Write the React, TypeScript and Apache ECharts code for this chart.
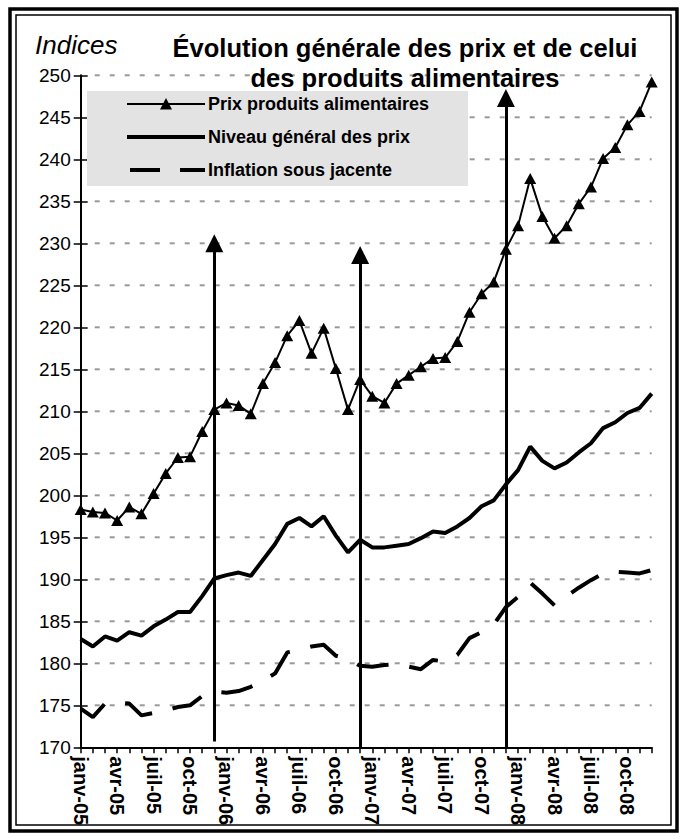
import React, { useEffect, useRef } from 'react';
import * as echarts from 'echarts';

const categories = [
  'janv-05','févr-05','mars-05','avr-05','mai-05','juin-05','juil-05','août-05','sept-05','oct-05','nov-05','déc-05',
  'janv-06','févr-06','mars-06','avr-06','mai-06','juin-06','juil-06','août-06','sept-06','oct-06','nov-06','déc-06',
  'janv-07','févr-07','mars-07','avr-07','mai-07','juin-07','juil-07','août-07','sept-07','oct-07','nov-07','déc-07',
  'janv-08','févr-08','mars-08','avr-08','mai-08','juin-08','juil-08','août-08','sept-08','oct-08','nov-08','déc-08',
];

const foodPrices = [
  198.3, 198.0, 197.9, 197.0, 198.6, 197.8, 200.2, 202.6, 204.5, 204.6, 207.6, 210.2,
  211.0, 210.7, 209.7, 213.3, 215.8, 219.0, 220.8, 216.9, 219.9, 215.1, 210.2, 213.8,
  211.8, 211.0, 213.3, 214.3, 215.3, 216.3, 216.4, 218.3, 221.8, 224.0, 225.4, 229.3,
  232.1, 237.7, 233.2, 230.6, 232.1, 234.7, 236.7, 240.1, 241.4, 244.1, 245.7, 249.2,
];

const generalPrices = [
  182.9, 182.0, 183.2, 182.7, 183.7, 183.3, 184.4, 185.2, 186.1, 186.1, 188.0, 190.1,
  190.5, 190.8, 190.4, 192.3, 194.2, 196.6, 197.3, 196.3, 197.5, 195.2, 193.2, 194.7,
  193.8, 193.8, 194.0, 194.2, 194.9, 195.7, 195.5, 196.3, 197.3, 198.7, 199.4, 201.3,
  203.0, 205.8, 204.1, 203.2, 203.9, 205.1, 206.2, 208.0, 208.7, 209.8, 210.4, 212.1,
];

const coreInflation = [
  174.6, 173.6, 175.2, 175.3, 175.2, 173.8, 174.1, 174.4, 174.8, 175.0, 176.1, 176.6,
  176.5, 176.7, 177.2, 177.9, 178.8, 181.3, 181.6, 182.0, 182.2, 180.9, 180.5, 179.7,
  179.6, 179.8, 179.9, 179.6, 179.3, 180.4, 180.2, 181.0, 183.0, 183.7, 184.6, 186.7,
  187.9, 189.6, 188.3, 186.9, 188.0, 189.0, 189.9, 190.7, 190.9, 190.8, 190.7, 191.1,
];

const seriesNames = ['Prix produits alimentaires', 'Niveau général des prix', 'Inflation sous jacente'];

const gridValues = [175, 180, 185, 190, 195, 200, 205, 210, 215, 220, 225, 230, 235, 240, 245, 250];

const arrowMonths = ['déc-05', 'déc-06', 'déc-07'];
const arrowFrom = [170.7, 170, 170];
const arrowTo = [230.0, 228.6, 247.3];

const FONT = "'Liberation Sans', Arial, Helvetica, sans-serif";

export default function App() {
  const ref = useRef<HTMLDivElement>(null);

  useEffect(() => {
    if (!ref.current) return;
    const chart = echarts.init(ref.current, undefined, { renderer: 'svg' });

    const legendX = 127;
    const legendRows = [104, 137, 170];

    const baseGraphic: any[] = [
      { type: 'rect', shape: { x: 10, y: 9, width: 667, height: 822 }, style: { fill: 'none', stroke: '#000', lineWidth: 3.5 }, z: 100 },
      { type: 'rect', shape: { x: 16, y: 15, width: 655, height: 810 }, style: { fill: 'none', stroke: '#000', lineWidth: 1.5 }, z: 100 },
      {
        type: 'text', x: 35, y: 45,
        style: { text: 'Indices', fontFamily: FONT, fontSize: 26, fontStyle: 'italic', fill: '#000', verticalAlign: 'middle', align: 'left' },
      },
      { type: 'rect', shape: { x: 87, y: 91, width: 381, height: 95 }, style: { fill: '#e3e3e3' }, z: 50 },
      { type: 'line', shape: { x1: legendX, y1: legendRows[0], x2: legendX + 78, y2: legendRows[0] }, style: { stroke: '#000', lineWidth: 2 }, z: 51 },
      { type: 'polygon', shape: { points: [[166, legendRows[0] - 6], [160, legendRows[0] + 5.5], [172, legendRows[0] + 5.5]] }, style: { fill: '#000' }, z: 52 },
      { type: 'line', shape: { x1: legendX, y1: legendRows[1], x2: legendX + 78, y2: legendRows[1] }, style: { stroke: '#000', lineWidth: 4 }, z: 51 },
      { type: 'line', shape: { x1: 130, y1: legendRows[2], x2: 160, y2: legendRows[2] }, style: { stroke: '#000', lineWidth: 4 }, z: 51 },
      { type: 'line', shape: { x1: 180, y1: legendRows[2], x2: 205, y2: legendRows[2] }, style: { stroke: '#000', lineWidth: 4 }, z: 51 },
      ...seriesNames.map((n, i) => ({
        type: 'text', x: 208, y: legendRows[i], z: 52,
        style: { text: n, fontFamily: FONT, fontSize: 18, fontWeight: 'bold', fill: '#000', verticalAlign: 'middle', align: 'left' },
      })),
    ];

    const option: any = {
      animation: false,
      backgroundColor: '#ffffff',
      title: {
        text: 'Évolution générale des prix et de celui\ndes produits alimentaires',
        left: 400,
        top: 28,
        textAlign: 'center',
        textStyle: { fontFamily: FONT, fontSize: 25.5, fontWeight: 'bold', color: '#000', lineHeight: 30 },
      },
      grid: { left: 80.7, right: 33.3, top: 75.3, bottom: 91.7, containLabel: false },
      xAxis: {
        type: 'category',
        data: categories,
        boundaryGap: false,
        axisLine: { show: true, lineStyle: { color: '#000', width: 2 } },
        axisTick: { show: true, interval: 0, length: 6, lineStyle: { color: '#000', width: 1.5 } },
        axisLabel: {
          interval: 2, rotate: -90, margin: 9,
          fontFamily: FONT, fontSize: 20, fontWeight: 'bold', color: '#000',
        },
        splitLine: { show: false },
      },
      yAxis: [
        {
          type: 'value', min: 170, max: 250, interval: 5,
          axisLine: { show: true, lineStyle: { color: '#000', width: 2 } },
          axisTick: { show: true, length: 7, lineStyle: { color: '#000', width: 1.5 } },
          axisLabel: { fontFamily: FONT, fontSize: 19, color: '#000', margin: 10 },
          splitLine: { show: false },
        },
        {
          type: 'value', min: 170, max: 250, interval: 5, position: 'left', offset: 0,
          axisLine: { show: false },
          axisTick: { show: true, inside: true, length: 7, lineStyle: { color: '#000', width: 1.5 } },
          axisLabel: { show: false },
          splitLine: { show: false },
        },
      ],
      series: [
        {
          name: seriesNames[2], type: 'line', data: coreInflation, symbol: 'none', z: 3,
          lineStyle: { color: '#000', width: 4, type: [32, 21] },
        },
        {
          name: seriesNames[1], type: 'line', data: generalPrices, symbol: 'none', z: 4,
          lineStyle: { color: '#000', width: 4 },
        },
        {
          name: seriesNames[0], type: 'line', data: foodPrices, symbol: 'triangle', symbolSize: [12, 11], z: 5,
          showAllSymbol: true,
          itemStyle: { color: '#000' },
          lineStyle: { color: '#000', width: 2 },
          markLine: {
            silent: true,
            z: 6,
            symbol: ['none', 'triangle'],
            symbolSize: 18,
            label: { show: false },
            lineStyle: { color: '#000', width: 3, type: 'solid' },
            emphasis: { disabled: true },
            data: arrowMonths.map((m, i) => [
              { coord: [categories.indexOf(m), arrowFrom[i]] },
              { coord: [categories.indexOf(m), arrowTo[i]] },
            ]),
          },
        },
      ],
      graphic: baseGraphic,
    };

    chart.setOption(option);

    // Dashed grey gridlines, positioned through the chart's own scales
    const xStart = chart.convertToPixel({ xAxisIndex: 0 }, 0) as number;
    const xEnd = chart.convertToPixel({ xAxisIndex: 0 }, categories.length - 1) as number;
    const dashes: any[] = [];
    gridValues.forEach((v) => {
      const y = chart.convertToPixel({ yAxisIndex: 0 }, v) as number;
      for (let x = xStart + 14; x < xEnd; x += 15) {
        dashes.push({
          type: 'rect',
          silent: true,
          z: 1,
          shape: { x, y: y - 1, width: Math.min(5, xEnd - x), height: 2 },
          style: { fill: '#999999' },
        });
      }
    });
    chart.setOption({ graphic: [...baseGraphic, ...dashes] });

    return () => chart.dispose();
  }, []);

  return (
    <div
      ref={ref}
      style={{ position: 'fixed', left: 0, top: 0, width: 685, height: 839, background: '#fff' }}
    />
  );
}
